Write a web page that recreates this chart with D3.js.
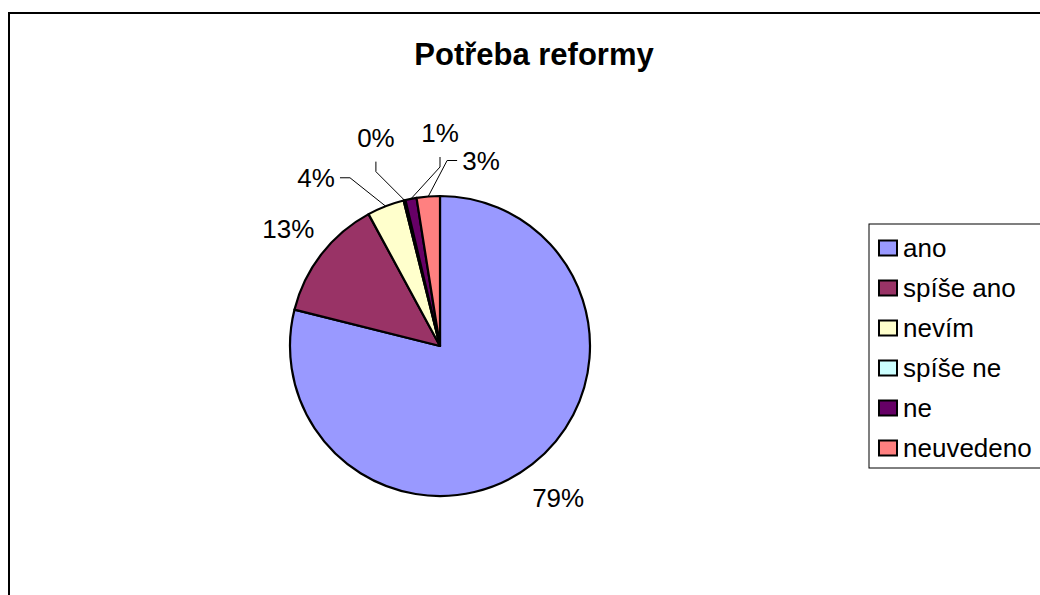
<!DOCTYPE html>
<html lang="cs">
<head>
<meta charset="UTF-8">
<title>Potřeba reformy</title>
<script src="https://cdn.jsdelivr.net/npm/d3@7"></script>
<style>
  body { margin: 0; background: #fff; }
  text { font-family: Arial, "Liberation Sans", sans-serif; fill: #000; }
</style>
</head>
<body>
<svg id="chart" width="1040" height="595"></svg>
<script>
// data (percent of answers)
var categories = ["ano", "spíše ano", "nevím", "spíše ne", "ne", "neuvedeno"];
var values = [78.9, 13.2, 4.0, 0.2, 1.2, 2.5];
var colors = ["#9999FF", "#993366", "#FFFFCC", "#CCFFFF", "#660066", "#FF8080"];

// label layout: null = default position at mid angle, else [angle deg, distance, leader direction]
var labelLayout = [null, null, [323.6, 209, "right"], [342.9, 218, "down"], [0, 213, "down"], [12.5, 190, "left"]];

var width = 1040, height = 595;
var cx = 440, cy = 346, radius = 150;

var svg = d3.select("#chart");

// outer chart frame
svg.append("rect")
    .attr("x", 9).attr("y", 13)
    .attr("width", 1050).attr("height", 620)
    .attr("fill", "none")
    .attr("stroke", "#000")
    .attr("stroke-width", 2);

// title
svg.append("text")
    .attr("x", 534).attr("y", 65)
    .attr("text-anchor", "middle")
    .attr("font-size", 31)
    .attr("font-weight", "bold")
    .text("Potřeba reformy");

var pie = d3.pie().sort(null).value(function(d){ return d; });
var arcs = pie(values);
var arc = d3.arc().innerRadius(0).outerRadius(radius);

var g = svg.append("g").attr("transform", "translate(" + cx + "," + cy + ")");

g.selectAll("path")
    .data(arcs)
    .enter()
    .append("path")
    .attr("d", arc)
    .attr("fill", function(d, i){ return colors[i]; })
    .attr("stroke", "#000")
    .attr("stroke-width", 2.2)
    .attr("stroke-linejoin", "round");

function polar(angle, dist){
    return [Math.sin(angle) * dist, -Math.cos(angle) * dist];
}

var dirs = { right: [1, 0], left: [-1, 0], down: [0, 1] };

arcs.forEach(function(d, i){
    var mid = (d.startAngle + d.endAngle) / 2;
    var lay = labelLayout[i];
    var pos = lay ? polar(lay[0] * Math.PI / 180, lay[1]) : polar(mid, radius + 42);
    if (lay) {
        var dv = dirs[lay[2]];
        var edge = polar(mid, radius);
        var elbow = [pos[0] + dv[0] * 34, pos[1] + dv[1] * 34];
        var end = [pos[0] + dv[0] * 24, pos[1] + dv[1] * 24];
        g.append("polyline")
            .attr("points", [edge, elbow, end].map(function(p){ return p.join(","); }).join(" "))
            .attr("fill", "none")
            .attr("stroke", "#000")
            .attr("stroke-width", 1);
    }
    g.append("text")
        .attr("x", pos[0])
        .attr("y", pos[1])
        .attr("dy", "0.36em")
        .attr("text-anchor", "middle")
        .attr("font-size", 26)
        .text(Math.round(values[i]) + "%");
});

// legend
var legend = svg.append("g");
legend.append("rect")
    .attr("x", 869).attr("y", 224)
    .attr("width", 200).attr("height", 244)
    .attr("fill", "#fff")
    .attr("stroke", "#000")
    .attr("stroke-width", 1);

var item = legend.selectAll("g.item")
    .data(categories)
    .enter()
    .append("g")
    .attr("class", "item")
    .attr("transform", function(d, i){ return "translate(879," + (248 + i * 40) + ")"; });

item.append("rect")
    .attr("x", 0).attr("y", -7.5)
    .attr("width", 18).attr("height", 15)
    .attr("fill", function(d, i){ return colors[i]; })
    .attr("stroke", "#000")
    .attr("stroke-width", 2);

item.append("text")
    .attr("x", 24)
    .attr("dy", "0.36em")
    .attr("font-size", 26)
    .text(function(d){ return d; });
</script>
</body>
</html>
